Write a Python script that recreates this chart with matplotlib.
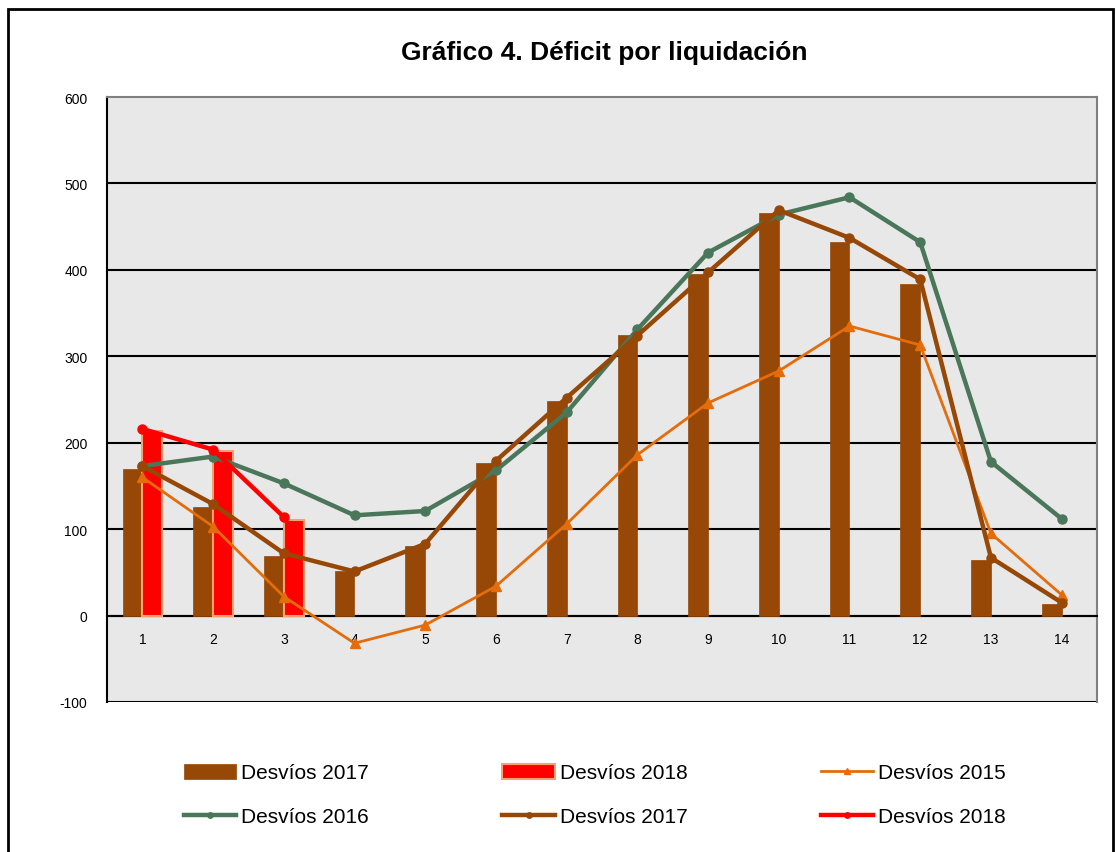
import matplotlib.pyplot as plt
from matplotlib.patches import Rectangle
import numpy as np

# data
liquidaciones = list(range(1, 15))
barras_2017 = [170, 126, 69, 51, 80, 176, 248, 325, 395, 466, 432, 384, 64, 13]
barras_2018 = [214, 190, 111]
desvios_2015 = [160, 103, 22, -32, -11, 34, 106, 186, 246, 283, 335, 313, 95, 24]
desvios_2016 = [173, 184, 153, 116, 121, 168, 235, 331, 420, 464, 484, 432, 178, 112]
desvios_2017 = [173, 129, 72, 51, 83, 179, 252, 324, 397, 469, 437, 389, 67, 15]
desvios_2018 = [216, 192, 114]

plt.rcParams['font.family'] = ['Liberation Sans', 'DejaVu Sans']
plt.rcParams['axes.unicode_minus'] = False

fig = plt.figure(figsize=(11.16, 8.53), dpi=100)
ax = fig.add_axes([107 / 1116, 1 - 703 / 853, 990 / 1116, 605 / 853])
ax.set_facecolor('#e8e8e8')

x = np.array(liquidaciones)
w = 0.28
b1 = ax.bar(x - w / 2, barras_2017, width=w, color='#974706', edgecolor='#974706',
            linewidth=0.5, zorder=3, label='Desvíos 2017')
x18 = x[:len(barras_2018)]
b2 = ax.bar(x18 + w / 2, barras_2018, width=w, color='#ff0000', edgecolor='#f9a070',
            linewidth=1.5, zorder=3, label='Desvíos 2018')

l15, = ax.plot(x, desvios_2015, color='#e46c0a', lw=2, marker='^', ms=7, zorder=4,
               label='Desvíos 2015')
l16, = ax.plot(x, desvios_2016, color='#4a7659', lw=3.2, marker='o', ms=6.5, zorder=5,
               label='Desvíos 2016')
l17, = ax.plot(x, desvios_2017, color='#974706', lw=3.2, marker='o', ms=6.5, zorder=6,
               label='Desvíos 2017')
l18, = ax.plot(x18, desvios_2018, color='#ff0000', lw=3.2, marker='o', ms=6.5, zorder=7,
               label='Desvíos 2018')

ax.set_xlim(0.5, 14.5)
ax.set_ylim(-100, 600)
ax.set_yticks(range(-100, 700, 100))
ax.set_xticks(x)
ax.set_xticklabels([str(v) for v in liquidaciones], fontsize=10)
ax.tick_params(axis='x', length=0, pad=12)
ax.tick_params(axis='y', length=0, pad=14, labelsize=10)

for v in range(-100, 600, 100):
    ax.axhline(v, color='black', lw=1.5, zorder=2)

ax.spines['bottom'].set_position(('data', 0))
ax.spines['bottom'].set_color('black')
ax.spines['bottom'].set_linewidth(1.5)
ax.spines['left'].set_color('black')
ax.spines['left'].set_linewidth(1.5)
ax.spines['top'].set_color('#808080')
ax.spines['right'].set_color('#808080')
ax.spines['top'].set_linewidth(1.5)
ax.spines['right'].set_linewidth(1.5)

fig.text(604 / 1116, 1 - 53 / 853, 'Gráfico 4. Déficit por liquidación',
         ha='center', va='center', fontsize=19, fontweight='bold')

handles = [b1, l16, b2, l17, l15, l18]
leg = fig.legend(handles=handles, labels=[h.get_label() for h in handles], ncol=3,
                 loc='center', bbox_to_anchor=(595 / 1116, 1 - 796 / 853), frameon=False,
                 fontsize=15, columnspacing=6.4, handlelength=2.5, handletextpad=0.25,
                 labelspacing=1.2, markerscale=0.6)

fig.patches.append(Rectangle((8 / 1116, -0.1), 1105 / 1116, 1.1 - 10 / 853,
                             transform=fig.transFigure, fill=False,
                             edgecolor='black', lw=2))

fig.savefig('out.png', dpi=100)
